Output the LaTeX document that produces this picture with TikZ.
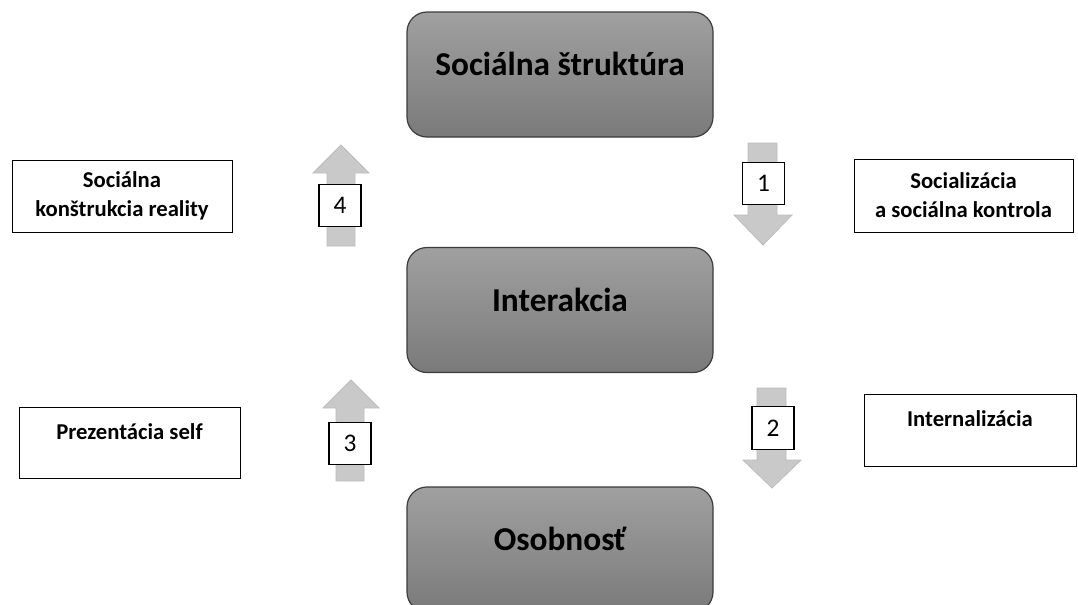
\documentclass[tikz,border=0pt]{standalone}
\usepackage{fontspec}
\setmainfont{Carlito}
\definecolor{boxtop}{RGB}{160,160,160}
\definecolor{boxbot}{RGB}{122,122,122}
\definecolor{boxline}{RGB}{60,60,60}
\definecolor{arrfill}{RGB}{201,201,201}
\definecolor{arrline}{RGB}{188,188,188}
\tikzset{
  mainbox/.style={draw=boxline, line width=0.9pt, rounded corners=15pt,
    top color=boxtop, bottom color=boxbot,
    minimum width=229.5pt, minimum height=93.75pt,
    font=\fontsize{25}{30}\selectfont\bfseries,
    text height=18pt, text depth=16.2pt},
  labelbox/.style={draw=black, line width=0.75pt, fill=white, align=center,
    font=\fontsize{17}{21.75}\selectfont\bfseries},
  lowlabel/.style={labelbox, text height=12pt, text depth=17pt},
  numbox/.style={draw=black, line width=0.9pt, fill=white,
    minimum width=31.5pt, minimum height=32pt, inner sep=0pt,
    font=\fontsize{19}{22}\selectfont},
  bigarrow/.style={fill=arrfill, draw=arrline, line width=0.6pt}
}
\begin{document}
\begin{tikzpicture}[x=0.75pt, y=-0.75pt]
\useasboundingbox (0,0) rectangle (1078,604);

% main boxes
\node[mainbox] (struct) at (560,74.5) {Sociálna štruktúra};
\node[mainbox] (inter) at (560,310) {Interakcia};
\node[mainbox] (osob) at (560,549.5) {Osobnosť};

% arrows
% 4 (up)
\draw[bigarrow] (341,145) -- (369,173) -- (355,173) -- (355,246) -- (327,246) -- (327,173) -- (313,173) -- cycle;
% 1 (down)
\draw[bigarrow] (763,245) -- (792,215) -- (777,215) -- (777,143) -- (748,143) -- (748,215) -- (734,215) -- cycle;
% 3 (up)
\draw[bigarrow] (351,380) -- (379,408) -- (364,408) -- (364,481) -- (336,481) -- (336,408) -- (323,408) -- cycle;
% 2 (down)
\draw[bigarrow] (772,488) -- (801,460) -- (786,460) -- (786,388) -- (757,388) -- (757,460) -- (743,460) -- cycle;

% number boxes
\node[numbox] (n4) at (340,205.5) {4};
\node[numbox] (n1) at (763.5,183.5) {1};
\node[numbox] (n3) at (350,443.5) {3};
\node[numbox] (n2) at (773,428) {2};

% label boxes
\node[labelbox, minimum width=165pt, minimum height=54pt] (lt) at (122,196) {Sociálna\\konštrukcia reality};
\node[labelbox, minimum width=164.25pt, minimum height=54.75pt] (rt) at (963.5,195.5) {Socializácia\\a sociálna kontrola};
\node[lowlabel, minimum width=165.75pt, minimum height=53.25pt] (lb) at (129.5,442.5) {Prezentácia self};
\node[lowlabel, minimum width=159pt, minimum height=54pt] (rb) at (970,430) {Internalizácia};
\end{tikzpicture}
\end{document}
